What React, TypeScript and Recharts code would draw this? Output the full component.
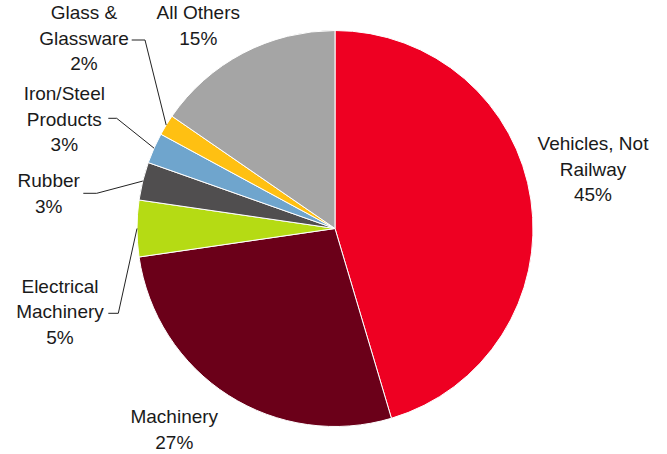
import React from 'react';
import { PieChart, Pie, Cell } from 'recharts';

const categories = [
  'Vehicles, Not Railway',
  'Machinery',
  'Electrical Machinery',
  'Rubber',
  'Iron/Steel Products',
  'Glass & Glassware',
  'All Others',
];
const shares = [45.4, 27.3, 4.6, 3.1, 2.5, 1.7, 15.4];
const labelLines = [
  ['Vehicles, Not', 'Railway'],
  ['Machinery'],
  ['Electrical', 'Machinery'],
  ['Rubber'],
  ['Iron/Steel', 'Products'],
  ['Glass &', 'Glassware'],
  ['All Others'],
];

const COLORS = ['#ee0022', '#6b0019', '#b5db14', '#504e4f', '#6fa5cd', '#ffc012', '#a5a5a5'];

// label placement relative to pie centre: text centre x, first baseline y, optional leader start/elbow
const LABEL_POS: { tx: number; ty: number; leader?: [number, number, number, number] }[] = [
  { tx: 258, ty: -78.5 },
  { tx: -160.7, ty: 194.8 },
  { tx: -275, ty: 64.2, leader: [-226.7, 84.8, -216.7, 84.8] },
  { tx: -286.3, ty: -41.2, leader: [-251.7, -35.2, -238.3, -35.2] },
  { tx: -270.7, ty: -128.5, leader: [-226.7, -110.2, -218.3, -110.2] },
  { tx: -251, ty: -209.2, leader: [-203.3, -188.5, -190, -188.5] },
  { tx: -136.7, ty: -209.2 },
];

const data = categories.map((name, i) => ({ name, value: shares[i], idx: i }));

const RAD = Math.PI / 180;
const LINE_H = 25.5;

const renderLabel = (props: any) => {
  const { cx, cy, midAngle, outerRadius, index, value } = props;
  const pos = LABEL_POS[index];
  const lines = [...labelLines[index], `${Math.round(value)}%`];
  const x = cx + pos.tx;
  const y = cy + pos.ty;
  let leader = null;
  if (pos.leader) {
    const ex = cx + outerRadius * Math.cos(-midAngle * RAD);
    const ey = cy + outerRadius * Math.sin(-midAngle * RAD);
    const [sx, sy, bx, by] = pos.leader;
    leader = (
      <polyline
        points={`${cx + sx},${cy + sy} ${cx + bx},${cy + by} ${ex},${ey}`}
        fill="none"
        stroke="#222"
        strokeWidth={1}
      />
    );
  }
  return (
    <g key={`lbl-${index}`}>
      {leader}
      <text x={x} y={y} textAnchor="middle" fill="#1a1a1a" fontSize={19} fontFamily="'Liberation Sans', Arial, sans-serif">
        {lines.map((l, i) => (
          <tspan key={i} x={x} y={y + i * LINE_H}>
            {l}
          </tspan>
        ))}
      </text>
    </g>
  );
};

const App: React.FC = () => {
  return (
    <div style={{ position: 'absolute', left: 0, top: 0, width: 667, height: 454, background: '#fff' }}>
      <PieChart width={667} height={454} margin={{ top: 0, right: 0, bottom: 0, left: 0 }}>
        <Pie
          data={data}
          dataKey="value"
          nameKey="name"
          cx={335}
          cy={228.5}
          outerRadius={198}
          startAngle={90}
          endAngle={-270}
          stroke="#ffffff"
          strokeWidth={1}
          label={renderLabel}
          labelLine={false}
          isAnimationActive={false}
        >
          {data.map((d, i) => (
            <Cell key={d.name} fill={COLORS[i]} />
          ))}
        </Pie>
      </PieChart>
    </div>
  );
};

export default App;
